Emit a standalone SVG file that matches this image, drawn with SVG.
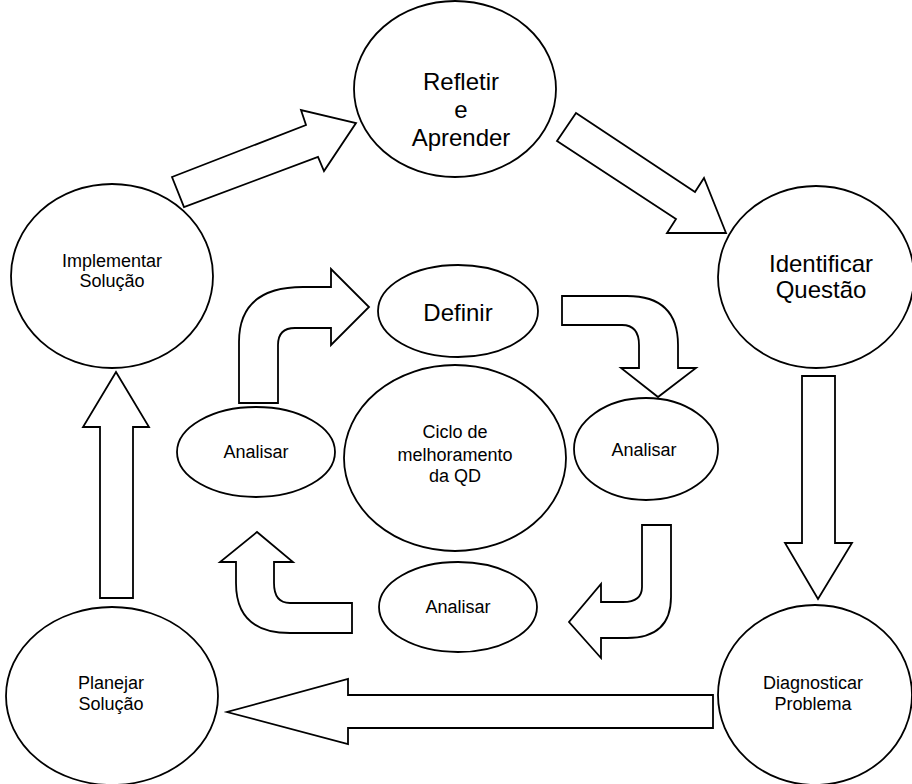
<svg xmlns="http://www.w3.org/2000/svg" width="912" height="784" viewBox="0 0 912 784">
<style>
.s{fill:#fff;stroke:#000;stroke-width:1.8;stroke-linejoin:miter}
.t{font-family:"Liberation Sans",Arial,sans-serif;fill:#000;text-anchor:middle}
.big{font-size:24px}
.sm{font-size:18px}
</style>
<rect width="912" height="784" fill="#fff"/>
<g id="connectors">
<polygon class="s" points="172,177 306,125 301,110 356,123 324,171 318,157 184,207"/>
<polygon class="s" points="576,113 695,192 704,178 726,233 667,233 676,219 557,141"/>
<polygon class="s" points="802,376 835,376 835,543 852,543 818,599 785,543 802,543"/>
<polygon class="s" points="713,695 713,728 348,728 348,744 227,712 348,679 348,695"/>
<polygon class="s" points="100,598 100,427 83,427 116,372 149,427 133,427 133,598"/>
<path class="s" d="M239,403 L239,342 Q239,287 303,287 L331,287 L331,269 L369,307 L331,345 L331,328 L295,328 Q278,328 278,345 L278,403 Z"/>
<path class="s" d="M562,296 L627,296 Q678,296 678,345 L678,368 L696,368 L658,397 L621,368 L639,368 L639,345 Q639,325 622,325 L562,325 Z"/>
<path class="s" d="M236,562 L236,583 Q236,633 290,633 L352,633 L352,603 L290,603 Q274,603 274,583 L274,562 L293,562 L257,532 L220,562 Z"/>
<path class="s" d="M642,525 L671,525 L671,597 Q671,638 627,638 L601,638 L601,658 L569,622 L601,584 L601,602 L623,602 Q642,602 642,587 Z"/>
</g>
<g id="refletir"><ellipse class="s" cx="455" cy="89" rx="101" ry="88"/><text class="t big" x="461" y="90">Refletir</text><text class="t big" x="461" y="118">e</text><text class="t big" x="461" y="146">Aprender</text></g>
<g id="identificar"><ellipse class="s" cx="816" cy="277" rx="98" ry="91"/><text class="t big" x="821" y="272">Identificar</text><text class="t big" x="821" y="298">Questão</text></g>
<g id="diagnosticar"><ellipse class="s" cx="815" cy="695" rx="97" ry="90"/><text class="t sm" x="813" y="689">Diagnosticar</text><text class="t sm" x="813" y="710">Problema</text></g>
<g id="planejar"><ellipse class="s" cx="112" cy="696" rx="106" ry="89"/><text class="t sm" x="111" y="689">Planejar</text><text class="t sm" x="111" y="710">Solução</text></g>
<g id="implementar"><ellipse class="s" cx="112" cy="276" rx="101" ry="92"/><text class="t sm" x="112" y="267">Implementar</text><text class="t sm" x="112" y="287">Solução</text></g>
<g id="definir"><ellipse class="s" cx="458" cy="311" rx="80" ry="46"/><text class="t big" x="458" y="321">Definir</text></g>
<g id="analisar-esq"><ellipse class="s" cx="256" cy="452" rx="79" ry="45"/><text class="t sm" x="256" y="458">Analisar</text></g>
<g id="analisar-dir"><ellipse class="s" cx="646" cy="449" rx="72" ry="51"/><text class="t sm" x="644" y="456">Analisar</text></g>
<g id="analisar-inf"><ellipse class="s" cx="458" cy="607" rx="79" ry="45"/><text class="t sm" x="458" y="613">Analisar</text></g>
<g id="ciclo"><ellipse class="s" cx="455" cy="458" rx="111" ry="93"/><text class="t sm" x="455" y="438">Ciclo de</text><text class="t sm" x="455" y="461">melhoramento</text><text class="t sm" x="455" y="482">da QD</text></g>
</svg>
